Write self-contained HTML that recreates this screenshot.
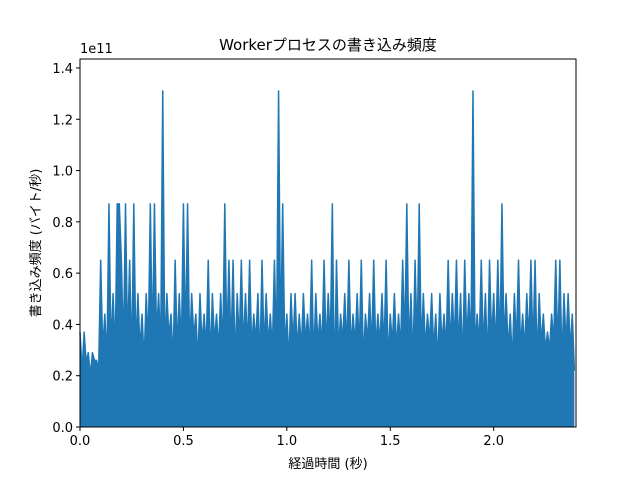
<!DOCTYPE html>
<html><head><meta charset="utf-8"><style>
body{margin:0;background:#fff;}
svg text{font-family:"DejaVu Sans","Noto Sans CJK JP",sans-serif;fill:#000;}
</style></head><body>
<svg id="chart" width="640" height="480" viewBox="0 0 640 480" xmlns="http://www.w3.org/2000/svg">
<rect width="640" height="480" fill="#fff"/>
<text x="328" y="50" font-size="15" text-anchor="middle">Workerプロセスの書き込み頻度</text>
<g id="plot"></g>
<rect x="80" y="59" width="496" height="368" fill="none" stroke="#000" stroke-width="1"/>
<g id="axes"></g>
<text x="80" y="53" font-size="13">1e11</text>
<text x="328" y="468" font-size="13" text-anchor="middle">経過時間 (秒)</text>
<text transform="translate(40,243) rotate(-90)" font-size="13" text-anchor="middle">書き込み頻度 (バイト/秒)</text>
</svg>
<script>
const dt = 0.01;
const values = [
0.37,0.22,0.37,0.25,0.29,0.2,0.29,0.26,0.26,0.22,
0.65,0.3,0.44,0.25,0.87,0.3,0.52,0.28,0.87,0.87,
0.65,0.3,0.87,0.32,0.65,0.25,0.87,0.3,0.52,0.3,
0.44,0.25,0.52,0.32,0.87,0.3,0.87,0.35,0.52,0.3,
1.31,0.28,0.52,0.35,0.44,0.25,0.65,0.3,0.52,0.3,
0.87,0.32,0.87,0.3,0.52,0.35,0.44,0.25,0.52,0.32,
0.44,0.3,0.65,0.25,0.52,0.33,0.44,0.3,0.52,0.3,
0.87,0.32,0.65,0.3,0.65,0.25,0.52,0.33,0.65,0.3,
0.52,0.3,0.65,0.3,0.44,0.33,0.52,0.25,0.65,0.3,
0.52,0.32,0.44,0.3,0.65,0.3,1.31,0.33,0.87,0.3,
0.44,0.25,0.52,0.32,0.52,0.3,0.44,0.3,0.52,0.33,
0.44,0.3,0.65,0.25,0.52,0.32,0.44,0.3,0.65,0.3,
0.52,0.32,0.87,0.15,0.65,0.3,0.44,0.33,0.52,0.3,
0.65,0.3,0.44,0.32,0.52,0.3,0.65,0.25,0.44,0.33,
0.52,0.3,0.65,0.3,0.44,0.32,0.52,0.3,0.65,0.25,
0.44,0.32,0.52,0.3,0.44,0.3,0.65,0.33,0.87,0.3,
0.52,0.25,0.65,0.32,0.87,0.3,0.52,0.3,0.44,0.33,
0.52,0.3,0.44,0.25,0.52,0.32,0.44,0.3,0.65,0.3,
0.52,0.32,0.65,0.3,0.52,0.25,0.65,0.33,0.52,0.3,
1.31,0.3,0.44,0.32,0.65,0.3,0.52,0.25,0.65,0.33,
0.52,0.3,0.65,0.3,0.87,0.32,0.52,0.3,0.44,0.25,
0.52,0.32,0.65,0.3,0.44,0.3,0.52,0.33,0.65,0.3,
0.65,0.25,0.52,0.32,0.44,0.3,0.37,0.3,0.44,0.33,
0.65,0.3,0.65,0.25,0.52,0.32,0.52,0.3,0.44,0.22
];
const xTicks = [0.0, 0.5, 1.0, 1.5, 2.0];
const xTickLabels = ["0.0","0.5","1.0","1.5","2.0"];
const yTicks = [0.0,0.2,0.4,0.6,0.8,1.0,1.2,1.4];
const yTickLabels = ["0.0","0.2","0.4","0.6","0.8","1.0","1.2","1.4"];

const X0=80, X1=576, Y0=427, Y1=59;
const xMax=2.398, yMax=1.435;
const xs = v => X0 + v/xMax*(X1-X0);
const ys = v => Y0 - v/yMax*(Y0-Y1);
const NS="http://www.w3.org/2000/svg";
const plot=document.getElementById('plot');
const axes=document.getElementById('axes');

let d = values.map((v,i)=>(i?'L':'M')+xs(i*dt).toFixed(2)+','+ys(v).toFixed(2)).join('');
const area=document.createElementNS(NS,'path');
area.setAttribute('d',d+'L'+xs((values.length-1)*dt).toFixed(2)+','+Y0+'L'+X0+','+Y0+'Z');
area.setAttribute('fill','#1f77b4');


plot.appendChild(area);
const line=document.createElementNS(NS,'path');
line.setAttribute('d',d);
line.setAttribute('fill','none');
line.setAttribute('stroke','#1f77b4');
line.setAttribute('stroke-width','1.5');
line.setAttribute('stroke-linejoin','round');


plot.appendChild(line);

xTicks.forEach((t,i)=>{
  const x=xs(t);
  const tk=document.createElementNS(NS,'line');
  tk.setAttribute('x1',x);tk.setAttribute('x2',x);tk.setAttribute('y1',Y0);tk.setAttribute('y2',Y0+4);
  tk.setAttribute('stroke','#000');
  
  
  axes.appendChild(tk);
  const tx=document.createElementNS(NS,'text');
  tx.setAttribute('x',x);tx.setAttribute('y',Y0+18);tx.setAttribute('font-size','13');tx.setAttribute('text-anchor','middle');
  tx.textContent=xTickLabels[i];
  
  
  axes.appendChild(tx);
});
yTicks.forEach((t,i)=>{
  const y=ys(t);
  const tk=document.createElementNS(NS,'line');
  tk.setAttribute('x1',X0-4);tk.setAttribute('x2',X0);tk.setAttribute('y1',y);tk.setAttribute('y2',y);
  tk.setAttribute('stroke','#000');
  
  
  axes.appendChild(tk);
  const tx=document.createElementNS(NS,'text');
  tx.setAttribute('x',X0-7);tx.setAttribute('y',y+5);tx.setAttribute('font-size','13');tx.setAttribute('text-anchor','end');
  tx.textContent=yTickLabels[i];
  
  
  axes.appendChild(tx);
});
</script>
</body></html>
